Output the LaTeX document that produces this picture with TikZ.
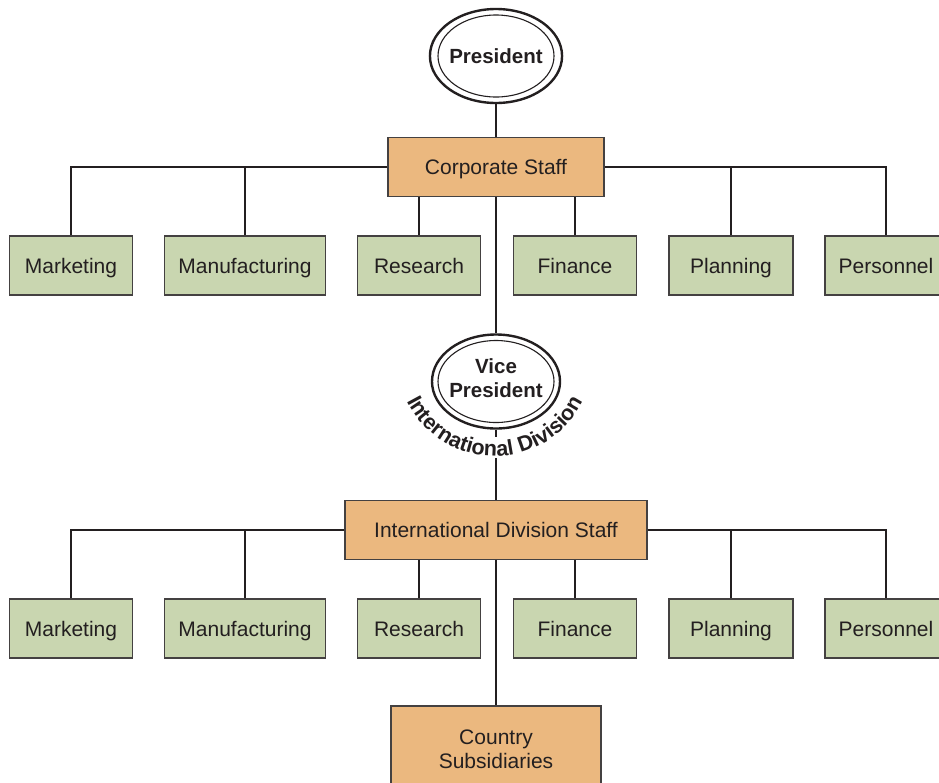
\documentclass[tikz,border=0pt]{standalone}
\usepackage{fontspec}
\setmainfont{Liberation Sans}
\usetikzlibrary{shapes.geometric,decorations.text}
\definecolor{orangefill}{HTML}{EBB87F}
\definecolor{greenfill}{HTML}{C9D6B0}
\definecolor{ink}{HTML}{231F20}
\begin{document}
\begin{tikzpicture}[x=1pt,y=-1pt,
  box/.style={draw=ink!85, line width=1.4pt, text=ink, font=\fontsize{21}{24}\selectfont, inner sep=0pt, minimum height=59pt, align=center},
  onebox/.style={text height=15pt, text depth=0pt},
  gbox/.style={box, onebox, fill=greenfill},
  obox/.style={box, fill=orangefill},
  conn/.style={draw=ink, line width=1.8pt},
  oval/.style={ellipse, draw=ink, line width=2.4pt, minimum width=128pt, minimum height=94pt, inner sep=0pt, text=ink, font=\bfseries\fontsize{20.5}{24}\selectfont, align=center},
  ovaltext/.style={text=ink, font=\bfseries\fontsize{20.5}{24}\selectfont, align=center, inner sep=0pt},
  inneroval/.style={draw=ink, line width=1.1pt}
]
\useasboundingbox (0,0) rectangle (939,782);
\fill[white] (0,0) rectangle (939,782);

% top level
\node[oval] (pres) at (496,56) {President};
\draw[inneroval] (pres.center) ellipse [x radius=58, y radius=41];
\node[obox, onebox, minimum width=216pt] (cs) at (496,167) {Corporate Staff};

\node[gbox, minimum width=123pt] (mk1) at (71,265.5) {Marketing};
\node[gbox, minimum width=161pt] (mf1) at (245,265.5) {Manufacturing};
\node[gbox, minimum width=123pt] (rs1) at (419,265.5) {Research};
\node[gbox, minimum width=123pt] (fi1) at (575,265.5) {Finance};
\node[gbox, minimum width=124pt] (pl1) at (731,265.5) {Planning};
\node[gbox, minimum width=122pt] (pe1) at (886,265.5) {Personnel};

% vice president
\node[oval] (vp) at (496,381.5) {};
\draw[inneroval] (vp.center) ellipse [x radius=58, y radius=41];
\node[ovaltext] (vpl) at (496,378) {Vice\\President};
\coordinate (arcc) at (495,357);
\path[decorate, decoration={text along path, text align=center, text color=ink,
  text={|\bfseries\fontsize{21.5}{24}\selectfont|International Division}}]
  (arcc) ++(154:99) arc[start angle=154, end angle=26, radius=99];
\coordinate (t1) at (496,437);
\coordinate (t2) at (496,458);

% international division
\node[obox, onebox, minimum width=302pt] (ids) at (496,530) {International Division Staff};

\node[gbox, minimum width=123pt] (mk2) at (71,628.5) {Marketing};
\node[gbox, minimum width=161pt] (mf2) at (245,628.5) {Manufacturing};
\node[gbox, minimum width=123pt] (rs2) at (419,628.5) {Research};
\node[gbox, minimum width=123pt] (fi2) at (575,628.5) {Finance};
\node[gbox, minimum width=124pt] (pl2) at (731,628.5) {Planning};
\node[gbox, minimum width=122pt] (pe2) at (886,628.5) {Personnel};

\node[obox, minimum width=210pt, minimum height=86pt] (cty) at (496,749) {Country\\Subsidiaries};

% connectors
\draw[conn] (pres.south) -- (cs.north);
\draw[conn] (cs.west) -| (mk1.north);
\draw[conn] (cs.west) -| (mf1.north);
\draw[conn] (cs.east) -| (pl1.north);
\draw[conn] (cs.east) -| (pe1.north);
\draw[conn] (rs1.north |- cs.south) -- (rs1.north);
\draw[conn] (fi1.north |- cs.south) -- (fi1.north);
\draw[conn] (cs.south) -- (vp.north);
\draw[conn] (vp.south) -- (t1);
\draw[conn] (t2) -- (ids.north);

\draw[conn] (ids.west) -| (mk2.north);
\draw[conn] (ids.west) -| (mf2.north);
\draw[conn] (ids.east) -| (pl2.north);
\draw[conn] (ids.east) -| (pe2.north);
\draw[conn] (rs2.north |- ids.south) -- (rs2.north);
\draw[conn] (fi2.north |- ids.south) -- (fi2.north);
\draw[conn] (ids.south) -- (cty.north);
\end{tikzpicture}
\end{document}
